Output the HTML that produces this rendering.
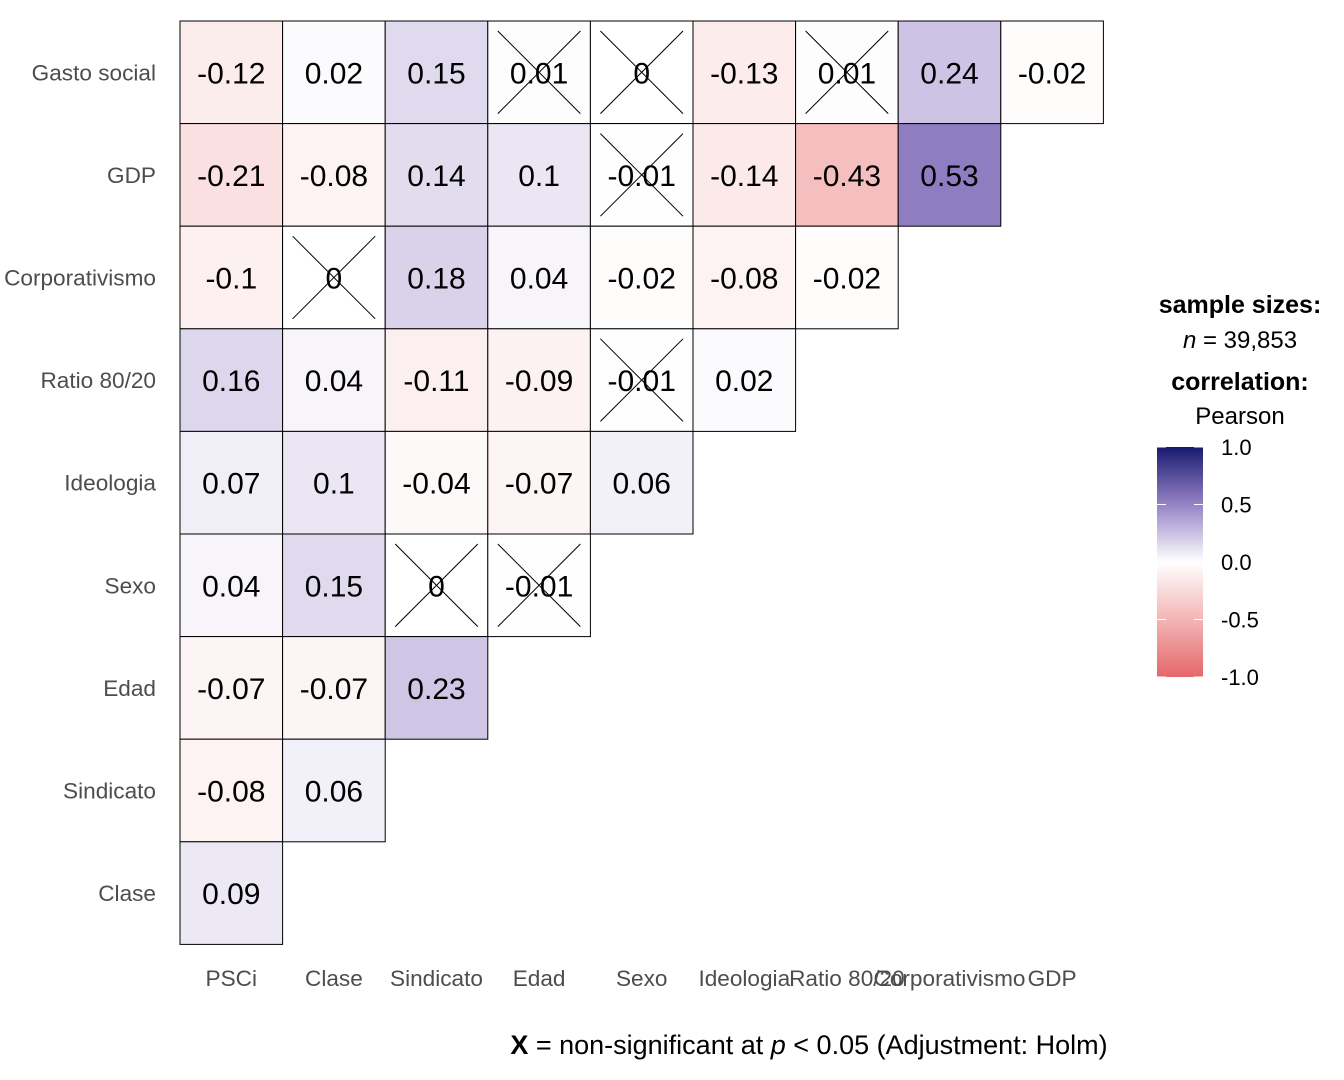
<!DOCTYPE html>
<html><head><meta charset="utf-8"><style>
body{margin:0;background:#fff;font-family:"Liberation Sans",Arial,sans-serif;}
svg text{font-family:"Liberation Sans",Arial,sans-serif;}
</style></head><body>
<svg id="chart" width="1344" height="1075" xmlns="http://www.w3.org/2000/svg">
<defs><linearGradient id="lg" x1="0" y1="1" x2="0" y2="0">
<stop offset="0" stop-color="#E4676B"/><stop offset="0.25" stop-color="#F3B5B6"/><stop offset="0.5" stop-color="#FFFFFF"/><stop offset="0.75" stop-color="#9683C6"/><stop offset="1" stop-color="#191970"/></linearGradient></defs>
<g id="cells"></g>
<g id="ylab"></g>
<g id="xlab"></g>
<g>
<text x="1240" y="313" font-size="25" font-weight="bold" text-anchor="middle">sample sizes:</text>
<text x="1240" y="348" font-size="24" text-anchor="middle"><tspan font-style="italic">n</tspan> = 39,853</text>
<text x="1240" y="390" font-size="25" font-weight="bold" text-anchor="middle">correlation:</text>
<text x="1240" y="424" font-size="24" text-anchor="middle">Pearson</text>
<rect x="1157" y="447" width="46" height="230" fill="url(#lg)"/>
<g id="lticks"></g>
</g>
<text x="809" y="1054" font-size="27" text-anchor="middle"><tspan font-weight="bold">X</tspan> = non-significant at <tspan font-style="italic">p</tspan> &lt; 0.05 (Adjustment: Holm)</text>
</svg>
<script>
const rowLabels=["Gasto social","GDP","Corporativismo","Ratio 80/20","Ideologia","Sexo","Edad","Sindicato","Clase"];
const colLabels=["PSCi","Clase","Sindicato","Edad","Sexo","Ideologia","Ratio 80/20","Corporativismo","GDP"];
const values=[
[-0.12,0.02,0.15,0.01,0,-0.13,0.01,0.24,-0.02],
[-0.21,-0.08,0.14,0.1,-0.01,-0.14,-0.43,0.53],
[-0.1,0,0.18,0.04,-0.02,-0.08,-0.02],
[0.16,0.04,-0.11,-0.09,-0.01,0.02],
[0.07,0.1,-0.04,-0.07,0.06],
[0.04,0.15,0,-0.01],
[-0.07,-0.07,0.23],
[-0.08,0.06],
[0.09]];
const nonsig=[
[0,0,0,1,1,0,1,0,0],
[0,0,0,0,1,0,0,0],
[0,1,0,0,0,0,0],
[0,0,0,0,1,0],
[0,0,0,0,0],
[0,0,1,1],
[0,0,0],[0,0],[0]];
const legendTicks=[1.0,0.5,0.0,-0.5,-1.0];
const NS="http://www.w3.org/2000/svg";
const x0=180,y0=21,cw=102.6,ch=102.6;
const xs=i=>x0+i*cw, ys=j=>y0+j*ch;
const lerp=(a,b,t)=>a.map((v,i)=>Math.round(v+(b[i]-v)*t));
function color(v){
 const W=[255,255,255],P5=[150,131,198],P1=[25,25,112],R5=[243,181,182],R1=[228,103,107];
 let c;
 if(v>=0) c=v<=0.5?lerp(W,P5,v/0.5):lerp(P5,P1,(v-0.5)/0.5);
 else {const a=-v;c=a<=0.5?lerp(W,R5,a/0.5):lerp(R5,R1,(a-0.5)/0.5);}
 return `rgb(${c[0]},${c[1]},${c[2]})`;
}
function mk(tag,attrs,parent){const e=document.createElementNS(NS,tag);for(const k in attrs)e.setAttribute(k,attrs[k]);parent.appendChild(e);return e;}
const cells=document.getElementById('cells');
values.forEach((row,j)=>row.forEach((v,i)=>{
 const r=mk('rect',{x:xs(i),y:ys(j),width:cw,height:ch,fill:color(v),stroke:'#000','stroke-width':1},cells);
 
 
 const t=mk('text',{x:xs(i)+cw/2,y:ys(j)+ch/2+11,'font-size':30,'text-anchor':'middle',fill:'#000'},cells);
 
 
 t.textContent=String(v);
 if(nonsig[j][i]){
  const p=10;
  const l1=mk('line',{x1:xs(i)+p,y1:ys(j)+p,x2:xs(i)+cw-p,y2:ys(j)+ch-p,stroke:'#000','stroke-width':1},cells);
  
  
  const l2=mk('line',{x1:xs(i)+cw-p,y1:ys(j)+p,x2:xs(i)+p,y2:ys(j)+ch-p,stroke:'#000','stroke-width':1},cells);
  
  
 }
}));
const yl=document.getElementById('ylab');
rowLabels.forEach((s,j)=>{const t=mk('text',{x:156,y:ys(j)+ch/2+8,'font-size':22.6,'text-anchor':'end',fill:'#4D4D4D'},yl);
 
 
 t.textContent=s;});
const xl=document.getElementById('xlab');
colLabels.forEach((s,i)=>{const t=mk('text',{x:xs(i)+cw/2,y:986,'font-size':22.6,'text-anchor':'middle',fill:'#4D4D4D'},xl);
 
 
 t.textContent=s;});
const lt=document.getElementById('lticks');
legendTicks.forEach(v=>{const y=562-v*115;
 const t=mk('text',{x:1221,y:y+8,'font-size':22,fill:'#000'},lt);
 
 
 t.textContent=v.toFixed(1);
 mk('line',{x1:1157,y1:y,x2:1166,y2:y,stroke:'#fff','stroke-width':1},lt);
 mk('line',{x1:1194,y1:y,x2:1203,y2:y,stroke:'#fff','stroke-width':1},lt);
});
</script>
</body></html>
